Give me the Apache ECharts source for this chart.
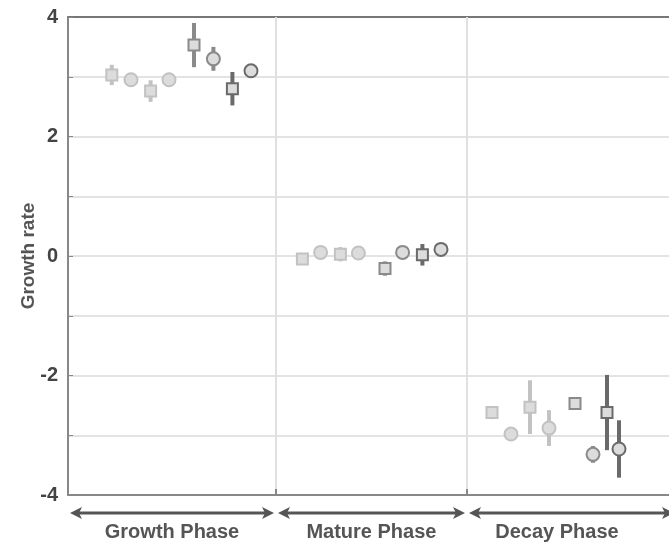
<!DOCTYPE html>
<html><head><meta charset="utf-8">
<script src="https://cdn.jsdelivr.net/npm/echarts@6/dist/echarts.min.js"></script>
<style>html,body{margin:0;padding:0;background:#fff}#c{width:669px;height:543px}</style>
</head><body><div id="c"></div>
<script>
// ---- data ----
const phases = ['Growth Phase', 'Mature Phase', 'Decay Phase'];
const phaseBounds = [0, 10.4, 19.95, 30.4];
const labelCenters = [5.2, 15.17, 24.45];
const conditions = ['A1', 'A2', 'A3', 'A4', 'B1', 'B2', 'B3', 'B4'];
const shapes = ['rect', 'circle', 'rect', 'circle', 'rect', 'circle', 'rect', 'circle'];
const colors = ['#c2c2c2', '#c2c2c2', '#c2c2c2', '#c2c2c2', '#8a8a8a', '#8a8a8a', '#6a6a6a', '#6a6a6a'];
// x positions per condition, one per phase
const xPos = [
  [2.19, 11.72, 21.2],
  [3.15, 12.63, 22.15],
  [4.13, 13.62, 23.1],
  [5.05, 14.52, 24.05],
  [6.3, 15.85, 25.35],
  [7.27, 16.73, 26.25],
  [8.22, 17.72, 26.95],
  [9.15, 18.65, 27.55]
];
const means = [
  [3.03, -0.05, -2.62],
  [2.95, 0.06, -2.98],
  [2.76, 0.03, -2.53],
  [2.95, 0.05, -2.88],
  [3.53, -0.21, -2.47],
  [3.30, 0.06, -3.32],
  [2.80, 0.02, -2.62],
  [3.10, 0.11, -3.23]
];
const errs = [
  [0.17, 0.03, 0.11],
  [0.05, 0.05, 0.11],
  [0.18, 0.12, 0.45],
  [0.06, 0.04, 0.30],
  [0.37, 0.12, 0.10],
  [0.20, 0.04, 0.14],
  [0.28, 0.18, 0.63],
  [0.06, 0.04, 0.48]
];
const yTicks = [-4, -2, 0, 2, 4];

const FONT = '"Liberation Sans", Arial, Helvetica, sans-serif';
const series = [];

// phase boundary grid lines
series.push({
  type: 'scatter', data: [], silent: true,
  markLine: {
    silent: true, symbol: 'none', label: { show: false },
    lineStyle: { color: '#e0e0e0', width: 2, type: 'solid' },
    data: phaseBounds.slice(1, 3).map(v => ({ xAxis: v }))
  }, z: 1
});

conditions.forEach((c, i) => {
  const d = xPos[i].map((x, k) => [x, means[i][k], errs[i][k]]);
  series.push({
    type: 'custom', name: c + ' err', data: d, z: 3,
    renderItem: function (params, api) {
      const x = api.value(0), m = api.value(1), e = api.value(2);
      const p1 = api.coord([x, m - e]), p2 = api.coord([x, m + e]);
      return { type: 'line', shape: { x1: p1[0], y1: p1[1], x2: p2[0], y2: p2[1] },
        style: { stroke: colors[i], lineWidth: 4 } };
    }
  });
  series.push({
    type: 'scatter', name: c, data: d.map(p => [p[0], p[1]]), z: 4,
    symbol: shapes[i], symbolSize: shapes[i] === 'rect' ? 11 : 13,
    itemStyle: { color: '#dcdcdc', borderColor: colors[i], borderWidth: 2, opacity: 1 }
  });
});

// phase arrows + labels below axis
series.push({
  type: 'custom', clip: false, silent: true, z: 5,
  data: phases.map((p, k) => [phaseBounds[k], phaseBounds[k + 1], labelCenters[k], k]),
  renderItem: function (params, api) {
    const a = api.coord([api.value(0), -4]);
    const b = api.coord([api.value(1), -4]);
    const cx = api.coord([api.value(2), -4])[0];
    const y = a[1] + 18;
    const x1 = a[0] + 2, x2 = b[0] - 2, L = 12, H = 6;
    const col = '#555';
    const children = [
      { type: 'line', shape: { x1: x1 + 4, y1: y, x2: x2 - 4, y2: y }, style: { stroke: col, lineWidth: 3 } },
      { type: 'polygon', shape: { points: [[x1, y], [x1 + L, y - H], [x1 + L - 3, y], [x1 + L, y + H]] }, style: { fill: col } },
      { type: 'polygon', shape: { points: [[x2, y], [x2 - L, y - H], [x2 - L + 3, y], [x2 - L, y + H]] }, style: { fill: col } },
      { type: 'text', style: { text: phases[api.value(3)], x: cx, y: y + 19, align: 'center', verticalAlign: 'middle',
        font: 'bold 20px ' + FONT, fill: '#555' } }
    ];
    if (api.value(3) > 0) {
      children.push({ type: 'line', shape: { x1: a[0], y1: a[1], x2: a[0], y2: a[1] - 6 }, style: { stroke: '#888', lineWidth: 2 } });
    }
    return { type: 'group', children: children };
  }
});

const chart = echarts.init(document.getElementById('c'));
chart.setOption({
  animation: false,
  grid: { left: 68, top: 17, right: 0, height: 478 },
  xAxis: [{
    type: 'value', min: 0, max: 30.05, position: 'bottom',
    axisLine: { show: true, onZero: false, lineStyle: { color: '#888', width: 2 } },
    axisTick: { show: false }, axisLabel: { show: false }, splitLine: { show: false }
  }, {
    type: 'value', min: 0, max: 30.05, position: 'top',
    axisLine: { show: true, onZero: false, lineStyle: { color: '#777', width: 2 } },
    axisTick: { show: false }, axisLabel: { show: false }, splitLine: { show: false }
  }],
  yAxis: {
    type: 'value', min: -4, max: 4, interval: 1,
    name: 'Growth rate', nameLocation: 'middle', nameGap: 30, nameMoveOverlap: false,
    nameTextStyle: { fontFamily: FONT, fontWeight: 'bold', fontSize: 19, color: '#555' },
    axisLine: { show: true, lineStyle: { color: '#888', width: 2 } },
    axisTick: { show: true, inside: true, length: 5, lineStyle: { color: '#888', width: 1 } },
    axisLabel: { fontFamily: FONT, fontWeight: 'bold', fontSize: 20, color: '#444', margin: 10,
      formatter: v => yTicks.indexOf(v) >= 0 ? String(v) : '' },
    splitLine: { show: true, lineStyle: { color: '#e3e3e3', width: 2 } }
  },
  series: series
});
</script></body></html>
